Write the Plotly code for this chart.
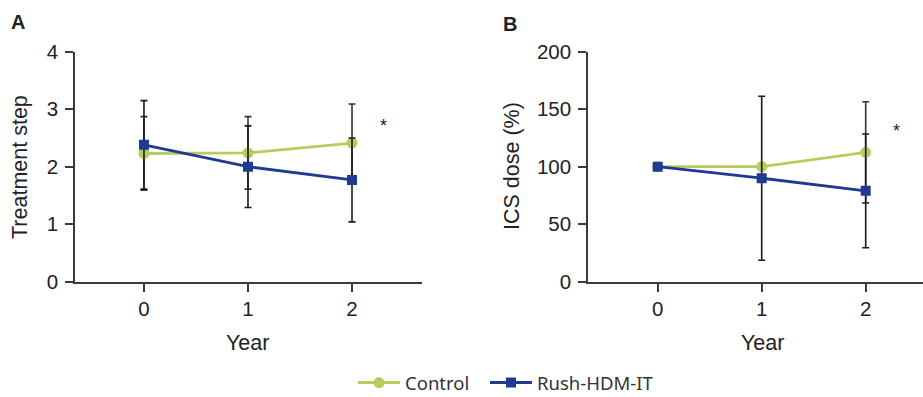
import plotly.graph_objects as go

years = [0, 1, 2]
year_labels = ["0", "1", "2"]

# Panel A: Treatment step
a_control = [2.23, 2.24, 2.41]
a_control_err = [0.64, 0.63, 0.68]
a_rush = [2.38, 2.00, 1.77]
a_rush_err = [0.77, 0.71, 0.73]

# Panel B: ICS dose (%)
b_control = [100, 100, 112.5]
b_control_err = [0, 0, 44]
b_rush = [100, 90, 79]
b_rush_err = [0, 71.3, 49.5]

a_ticks = [0, 1, 2, 3, 4]
b_ticks = [0, 50, 100, 150, 200]

GREEN = "#b4cd5c"
BLUE = "#1f3a93"
AXIS = "#3a3a3a"
W, H = 923, 397
MB = 60
PH = H - MB  # plot-area height in px


def fy(py):
    return (PH - py) / PH


TICKFONT = dict(family="Liberation Sans, Arial, sans-serif", size=20.5, color="#222")

fig = go.Figure()


def add_series(x, y, err, name, color, symbol, errcolor, xa, ya, show, leg):
    fig.add_trace(go.Scatter(
        x=x, y=y, name=name, mode="lines+markers",
        line=dict(color=color, width=2.8),
        marker=dict(color=color, size=11 if symbol == "circle" else 10, symbol=symbol),
        error_y=dict(type="data", array=err, visible=True, color=errcolor, thickness=1.6, width=3.5),
        xaxis=xa, yaxis=ya, showlegend=show, legendgroup=name, legend=leg,
    ))


add_series(years, a_control, a_control_err, "Control", GREEN, "circle", "#333333", "x", "y", True, "legend")
add_series(years, a_rush, a_rush_err, "Rush-HDM-IT", BLUE, "square", "#1a1a1a", "x", "y", True, "legend2")
add_series(years, b_control, b_control_err, "Control", GREEN, "circle", "#333333", "x2", "y2", False, "legend")
add_series(years, b_rush, b_rush_err, "Rush-HDM-IT", BLUE, "square", "#1a1a1a", "x2", "y2", False, "legend2")

ydom = [fy(281.7), fy(51.7)]
common_x = dict(showline=True, linecolor=AXIS, linewidth=1.6, ticks="outside", ticklen=8,
                tickwidth=1.6, tickcolor=AXIS, tickfont=TICKFONT, showgrid=False, zeroline=False,
                tickvals=years, ticktext=year_labels, fixedrange=True, automargin=False)
common_y = dict(showline=True, linecolor=AXIS, linewidth=1.6, ticks="outside", ticklen=8,
                tickwidth=1.6, tickcolor=AXIS, tickfont=TICKFONT, showgrid=False, zeroline=False,
                domain=ydom, fixedrange=True, ticklabelstandoff=3, automargin=False)

LEGFONT = dict(family="Noto Sans, sans-serif", size=18.5, color="#333")
leg_common = dict(orientation="h", xref="container", yref="container", xanchor="left",
                  y=(H - 383) / H, yanchor="middle", font=LEGFONT, itemwidth=42,
                  bgcolor="rgba(0,0,0,0)", borderwidth=0)

fig.update_layout(
    width=W, height=H,
    margin=dict(l=0, r=0, t=0, b=MB, autoexpand=False),
    paper_bgcolor="white", plot_bgcolor="white",
    xaxis=dict(common_x, domain=[75 / W, 421.7 / W], range=[-0.663, 2.67], anchor="y"),
    yaxis=dict(common_y, range=[0, 4], tickvals=a_ticks, anchor="x"),
    xaxis2=dict(common_x, domain=[588 / W, 1.0], range=[-0.67, 2.551], anchor="y2"),
    yaxis2=dict(common_y, range=[0, 200], tickvals=b_ticks, anchor="x2"),
    legend=dict(leg_common, x=353 / W),
    legend2=dict(leg_common, x=485 / W),
    showlegend=True,
)

TITLEFONT = dict(family="Liberation Sans, Arial, sans-serif", size=21.5, color="#222")
ann = [
    dict(text="<b>A</b>", x=18 / W, y=fy(22), font=dict(family="Liberation Sans, Arial", size=20, color="#222")),
    dict(text="<b>B</b>", x=510 / W, y=fy(24), font=dict(family="Liberation Sans, Arial", size=20, color="#222")),
    dict(text="Treatment step", x=20 / W, y=fy(167), textangle=-90, font=TITLEFONT),
    dict(text="ICS dose (%)", x=512 / W, y=fy(166), textangle=-90, font=TITLEFONT),
    dict(text="Year", x=248 / W, y=fy(343), font=TITLEFONT),
    dict(text="Year", x=762 / W, y=fy(343), font=TITLEFONT),
]
for a in ann:
    fig.add_annotation(xref="paper", yref="paper", showarrow=False, xanchor="center", yanchor="middle", **a)

fig.add_annotation(xref="x", yref="y", x=2.3, y=2.7, text="*", showarrow=False,
                   font=dict(family="Liberation Sans, Arial", size=18, color="#222"))
fig.add_annotation(xref="x2", yref="y2", x=2.3, y=131, text="*", showarrow=False,
                   font=dict(family="Liberation Sans, Arial", size=18, color="#222"))

fig.write_html("out.html", config={"displayModeBar": False},
               post_script="document.body.style.margin='0';document.body.style.overflow='hidden';")
